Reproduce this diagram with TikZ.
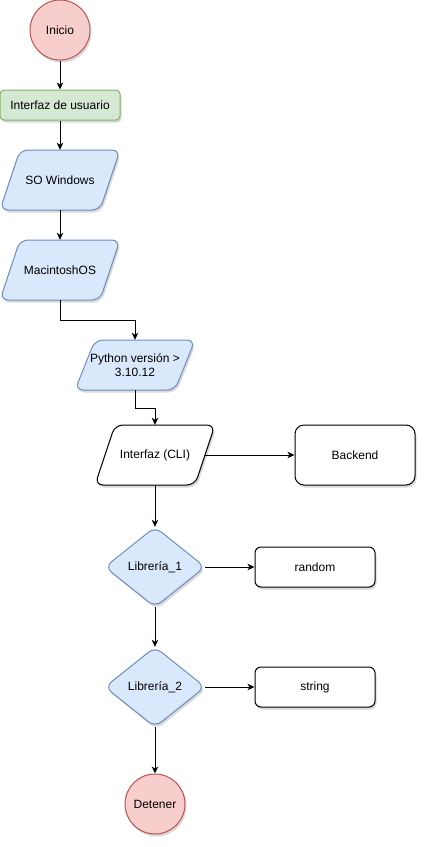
\documentclass[tikz,border=0pt]{standalone}
\usepackage{fontspec}
\setmainfont{Liberation Sans}
\usetikzlibrary{arrows.meta,shadows}

\definecolor{redfill}{HTML}{F8CECC}
\definecolor{redline}{HTML}{B85450}
\definecolor{bluefill}{HTML}{DAE8FC}
\definecolor{blueline}{HTML}{6C8EBF}
\definecolor{greenfill}{HTML}{D5E8D4}
\definecolor{greenline}{HTML}{82B366}

% slanted input/output outline: #1 style, centre (#2,#3), half height #4
\newcommand\slantshape[4]{%
  \path[#1] (#2-60,#3+#4) -- (#2-40,#3-#4) -- (#2+60,#3-#4) -- (#2+40,#3+#4) -- cycle;}
% decision diamond outline: #1 style, centre (#2,#3)
\newcommand\decisionshape[3]{%
  \path[#1] (#2,#3-40) -- (#2+50,#3) -- (#2,#3+40) -- (#2-50,#3) -- cycle;}

\tikzset{
  lbl/.style={font=\fontsize{12}{14}\selectfont, align=center, inner sep=0pt, text=black},
  shade/.style={drop shadow={shadow xshift=1.5pt, shadow yshift=-2.5pt, opacity=0.15, fill=black}},
  holder/.style={lbl, rectangle, minimum width=100pt},
  redshape/.style={draw=redline, fill=redfill, line width=1pt, shade},
  blueshape/.style={draw=blueline, fill=bluefill, line width=1pt, shade},
  greenshape/.style={draw=greenline, fill=greenfill, line width=1pt, shade},
  plainshape/.style={draw=black, fill=white, line width=1pt, shade},
  terminal/.style={lbl, circle, minimum size=60pt},
  arr/.style={line width=1pt, -{Stealth[length=7pt, width=6.5pt, inset=2pt]}},
}

\begin{document}
\begin{tikzpicture}[x=1pt, y=-1pt]
  \fill[white] (0,0) rectangle (427,847);
  \useasboundingbox (0,0) rectangle (427,847);

  % main column
  \node[terminal, redshape] (start) at (60,30) {Inicio};
  \node[lbl, greenshape, rounded corners=4pt, minimum width=120pt, minimum height=30pt] (ui) at (60,105) {Interfaz de usuario};

  \slantshape{blueshape, rounded corners=8pt}{60}{180}{30}
  \node[holder, minimum height=60pt] (win) at (60,180) {SO Windows};
  \slantshape{blueshape, rounded corners=8pt}{60}{270}{30}
  \node[holder, minimum height=60pt] (mac) at (60,270) {MacintoshOS};
  \slantshape{blueshape, rounded corners=8pt}{135}{365}{25}
  \node[holder, minimum height=50pt] (py) at (135,365) {Python versión >\\3.10.12};
  \slantshape{plainshape, rounded corners=8pt}{155}{455}{30}
  \node[holder, minimum height=60pt] (cli) at (155,455) {Interfaz (CLI)};

  \node[lbl, plainshape, rounded corners=9pt, minimum width=120pt, minimum height=60pt] (back) at (355,455) {Backend};

  \decisionshape{blueshape, rounded corners=8pt}{155}{567}
  \node[lbl, minimum width=100pt, minimum height=80pt] (lib1) at (155,567) {Librería\_1};
  \node[lbl, plainshape, rounded corners=6pt, minimum width=120pt, minimum height=40pt] (rnd) at (315,567) {random};

  \decisionshape{blueshape, rounded corners=8pt}{155}{687}
  \node[lbl, minimum width=100pt, minimum height=80pt] (lib2) at (155,687) {Librería\_2};
  \node[lbl, plainshape, rounded corners=6pt, minimum width=120pt, minimum height=40pt] (str) at (315,687) {string};

  \node[terminal, redshape] (stop) at (155,804) {Detener};

  % connectors
  \draw[arr] (start) -- (ui);
  \draw[arr] (ui) -- (win);
  \draw[arr] (win) -- (mac);
  \draw[arr] (mac.south) -- ++(0,20) -| (py.north);
  \draw[arr] (py.south) -- ++(0,18) -| (cli.north);
  \draw[arr] (cli.east) -- (back.west);
  \draw[arr] (cli.south) -- (lib1.north);
  \draw[arr] (lib1.east) -- (rnd.west);
  \draw[arr] (lib1.south) -- (lib2.north);
  \draw[arr] (lib2.east) -- (str.west);
  \draw[arr] (lib2.south) -- (stop.north);
\end{tikzpicture}
\end{document}
